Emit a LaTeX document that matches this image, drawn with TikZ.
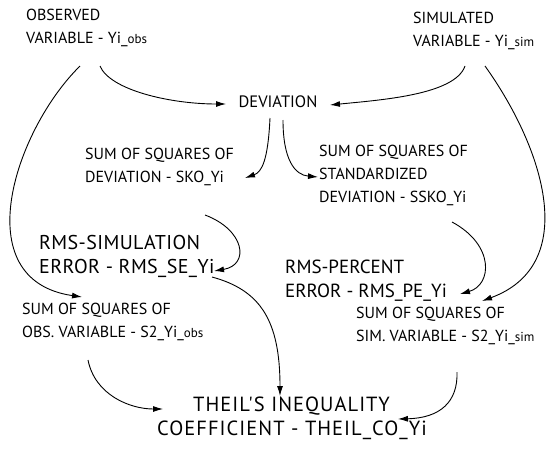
\documentclass[tikz,border=0pt]{standalone}
\usepackage{fontspec}
\setmainfont{PT Sans}
\newfontfamily\spacedA[LetterSpace=2]{PT Sans}
\newfontfamily\spacedB[LetterSpace=5]{PT Sans}
\newcommand{\sfx}[1]{{\fontsize{13}{13}\selectfont #1}}
\usetikzlibrary{arrows.meta}
\begin{document}
\begin{tikzpicture}[x=1pt,y=-1pt,
  lbl/.style={inner sep=0pt,anchor=north west,align=left,font=\fontsize{16}{23}\selectfont},
  big/.style={inner sep=0pt,anchor=north west,align=left,font=\spacedA\fontsize{20}{24}\selectfont},
  conn/.style={line width=0.9pt,-{Latex[length=10pt,width=6pt]}}]
\useasboundingbox (0,0) rectangle (546,466);
\node[lbl] (obs) at (26,9) {OBSERVED\\VARIABLE - Yi\_\sfx{obs}};
\node[lbl] (sim) at (413,12) {SIMULATED\\VARIABLE - Yi\_\sfx{sim}};
\node[lbl,anchor=center,font=\fontsize{16.5}{23}\selectfont] (dev) at (278,102) {DEVIATION};
\node[lbl] (sko) at (85,148) {SUM OF SQUARES OF\\DEVIATION - SKO\_Yi};
\node[lbl] (ssko) at (319,145) {SUM OF SQUARES OF\\STANDARDIZED\\DEVIATION - SSKO\_Yi};
\node[big] (rmsse) at (39,235) {RMS-SIMULATION\\ERROR - RMS\_SE\_Yi};
\node[big,font=\fontsize{19}{24}\selectfont] (rmspe) at (285,260) {RMS-PERCENT\\ERROR - RMS\_PE\_Yi};
\node[lbl] (sobs) at (22,303) {SUM OF SQUARES OF\\OBS. VARIABLE - S2\_Yi\_\sfx{obs}};
\node[lbl] (ssim) at (356,307) {SUM OF SQUARES OF\\SIM. VARIABLE - S2\_Yi\_\sfx{sim}};
\node[big,font=\spacedB\fontsize{20.5}{24}\selectfont] (theil) at (157,397) {\hspace*{36pt}THEIL'S INEQUALITY\\COEFFICIENT - THEIL\_CO\_Yi};
% connector end points
\coordinate (o1) at (100,66);  \coordinate (d1) at (226,104);
\coordinate (s1) at (465,66);  \coordinate (d2) at (330,105);
\coordinate (d3) at (270,118); \coordinate (k1) at (245,178);
\coordinate (d4) at (283,120); \coordinate (k2) at (318,177);
\coordinate (k3) at (205,215); \coordinate (r1) at (214,271);
\coordinate (k4) at (452,222); \coordinate (r2) at (460,294);
\coordinate (o2) at (80,66);   \coordinate (q1) at (82,297);
\coordinate (s2) at (485,66);  \coordinate (q2) at (482,301);
\coordinate (r3) at (212,277); \coordinate (t1) at (280,396);
\coordinate (q3) at (88,360);  \coordinate (t2) at (163,409);
\coordinate (q4) at (457,372); \coordinate (t3) at (398,419);
\draw[conn] (o1) .. controls (110,90) and (170,104) .. (d1);
\draw[conn] (s1) .. controls (455,95) and (380,100) .. (d2);
\draw[conn] (d3) .. controls (268,160) and (262,172) .. (k1);
\draw[conn] (d4) .. controls (283,160) and (295,175) .. (k2);
\draw[conn] (k3) .. controls (245,230) and (250,265) .. (r1);
\draw[conn] (k4) .. controls (495,245) and (492,285) .. (r2);
\draw[conn] (o2) .. controls (15,130) and (-35,280) .. (q1);
\draw[conn] (s2) .. controls (545,150) and (580,265) .. (q2);
\draw[conn] (r3) .. controls (260,290) and (280,320) .. (t1);
\draw[conn] (q3) .. controls (95,395) and (130,409) .. (t2);
\draw[conn] (q4) .. controls (458,402) and (440,418) .. (t3);
\end{tikzpicture}
\end{document}
